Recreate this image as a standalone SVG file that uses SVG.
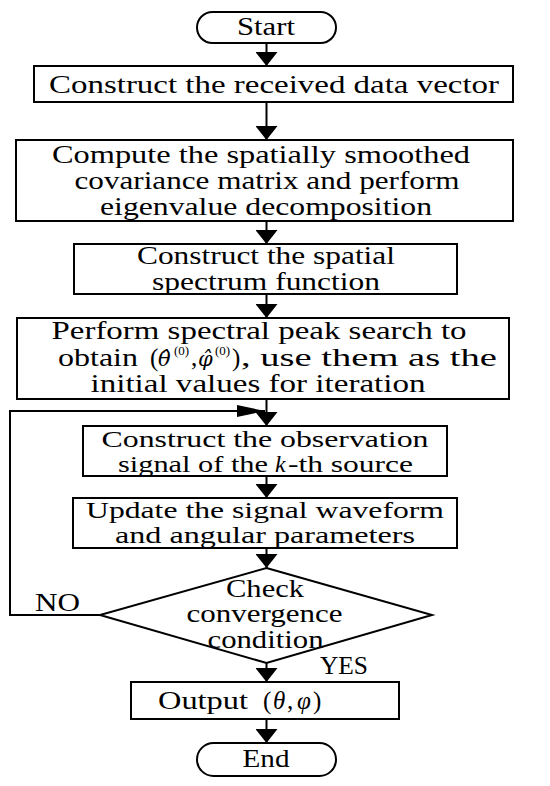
<svg xmlns="http://www.w3.org/2000/svg" width="550" height="786" viewBox="0 0 550 786">
<style>
.box{fill:#fff;stroke:#000;stroke-width:2}
.t{font-family:"Liberation Serif","Times New Roman",serif;font-size:25px;fill:#000;text-anchor:middle}
.ts{font-family:"Liberation Serif","Times New Roman",serif;font-size:25px;fill:#000}
.m{font-family:"DejaVu Serif",serif;font-size:21px;font-style:italic;fill:#000}
.sm{font-size:24px}
.sup{font-size:13px}
.it{font-style:italic}
.c{fill:none;stroke:#000;stroke-width:2}
</style>
<defs>
<marker id="ah" markerUnits="userSpaceOnUse" markerWidth="14" markerHeight="22" refX="14" refY="11" orient="auto"><path d="M0,0 L14,11 L0,22 z" fill="#000"/></marker>
<marker id="ahl" markerUnits="userSpaceOnUse" markerWidth="28" markerHeight="12" refX="28" refY="6" orient="auto"><path d="M0,0 L28,6 L0,12 z" fill="#000"/></marker>
</defs>
<rect width="550" height="786" fill="#fff"/>
<g id="connectors">
<line class="c" x1="266.5" y1="43" x2="266.5" y2="66" marker-end="url(#ah)"/>
<line class="c" x1="266.5" y1="102" x2="266.5" y2="140" marker-end="url(#ah)"/>
<line class="c" x1="266.5" y1="221" x2="266.5" y2="244" marker-end="url(#ah)"/>
<line class="c" x1="266.5" y1="294" x2="266.5" y2="318" marker-end="url(#ah)"/>
<line class="c" x1="266.5" y1="399" x2="266.5" y2="426" marker-end="url(#ah)"/>
<polyline class="c" points="100,615 10,615 10,411 265,411" marker-end="url(#ahl)"/>
<line class="c" x1="266.5" y1="476" x2="266.5" y2="498" marker-end="url(#ah)"/>
<line class="c" x1="266.5" y1="548" x2="266.5" y2="568" marker-end="url(#ah)"/>
<line class="c" x1="266.5" y1="663" x2="266.5" y2="682" marker-end="url(#ah)"/>
<line class="c" x1="266.5" y1="719" x2="266.5" y2="743" marker-end="url(#ah)"/>
<text class="ts" x="35" y="611" textLength="45" lengthAdjust="spacingAndGlyphs">NO</text>
<text class="ts" x="320" y="674" textLength="48" lengthAdjust="spacingAndGlyphs">YES</text>
</g>
<g id="start">
<rect class="box" x="197" y="12" width="139" height="31" rx="15.5"/>
<text class="t" x="266" y="35" textLength="58" lengthAdjust="spacingAndGlyphs">Start</text>
</g>
<g id="step1">
<rect class="box" x="34" y="66" width="479" height="36"/>
<text class="t" x="274" y="93" textLength="450" lengthAdjust="spacingAndGlyphs">Construct the received data vector</text>
</g>
<g id="step2">
<rect class="box" x="16" y="140" width="497" height="81"/>
<text class="t" x="261" y="163" textLength="418" lengthAdjust="spacingAndGlyphs">Compute the spatially smoothed</text>
<text class="t" x="267" y="189" textLength="385" lengthAdjust="spacingAndGlyphs">covariance matrix and perform</text>
<text class="t" x="266" y="215" textLength="332" lengthAdjust="spacingAndGlyphs">eigenvalue decomposition</text>
</g>
<g id="step3">
<rect class="box" x="74" y="244" width="383" height="50"/>
<text class="t" x="266" y="264" textLength="258" lengthAdjust="spacingAndGlyphs">Construct the spatial</text>
<text class="t" x="266" y="290" textLength="228" lengthAdjust="spacingAndGlyphs">spectrum function</text>
</g>
<g id="step4">
<rect class="box" x="17" y="318" width="492" height="81"/>
<text class="t" x="259" y="339" textLength="415" lengthAdjust="spacingAndGlyphs">Perform spectral peak search to</text>
<text class="ts" x="58" y="366" textLength="80" lengthAdjust="spacingAndGlyphs">obtain</text>
<text class="ts" x="150" y="366">(</text>
<text class="m" x="158" y="366">θ̂</text>
<text class="ts sup" x="174" y="355">(0)</text>
<text class="ts" x="191" y="366">,</text>
<text class="m" x="198" y="366">φ̂</text>
<text class="ts sup" x="215" y="355">(0)</text>
<text class="ts" x="232" y="366">)</text>
<text class="ts" x="241" y="366" textLength="256" lengthAdjust="spacingAndGlyphs">, use them as the</text>
<text class="t" x="258" y="392" textLength="335" lengthAdjust="spacingAndGlyphs">initial values for iteration</text>
</g>
<g id="step5">
<rect class="box" x="83" y="426" width="364" height="50"/>
<text class="t sm" x="265" y="447" textLength="327" lengthAdjust="spacingAndGlyphs">Construct the observation</text>
<text class="ts sm" x="118" y="472" textLength="150" lengthAdjust="spacingAndGlyphs">signal of the</text>
<text class="ts sm it" x="275" y="472">k</text>
<text class="ts sm" x="288" y="472" textLength="125" lengthAdjust="spacingAndGlyphs">-th source</text>
</g>
<g id="step6">
<rect class="box" x="73" y="498" width="384" height="50"/>
<text class="t sm" x="265" y="518" textLength="358" lengthAdjust="spacingAndGlyphs">Update the signal waveform</text>
<text class="t sm" x="265" y="543" textLength="300" lengthAdjust="spacingAndGlyphs">and angular parameters</text>
</g>
<g id="decision">
<polygon class="box" points="266.5,568 432,615 266.5,663 100,615"/>
<text class="t" x="265" y="597" textLength="78" lengthAdjust="spacingAndGlyphs">Check</text>
<text class="t" x="264.5" y="622" textLength="156" lengthAdjust="spacingAndGlyphs">convergence</text>
<text class="t" x="265.5" y="648" textLength="116" lengthAdjust="spacingAndGlyphs">condition</text>
</g>
<g id="output">
<rect class="box" x="131" y="682" width="268" height="37"/>
<text class="ts" x="158" y="709" textLength="90" lengthAdjust="spacingAndGlyphs">Output</text>
<text class="ts" x="263" y="709">(</text>
<text class="ts it" x="273" y="709">θ</text>
<text class="ts" x="287" y="709">,</text>
<text class="ts it" x="297" y="709">φ</text>
<text class="ts" x="313" y="709">)</text>
</g>
<g id="end">
<rect class="box" x="197" y="743" width="139" height="33" rx="16.5"/>
<text class="t" x="266" y="767" textLength="47" lengthAdjust="spacingAndGlyphs">End</text>
</g>
</svg>
